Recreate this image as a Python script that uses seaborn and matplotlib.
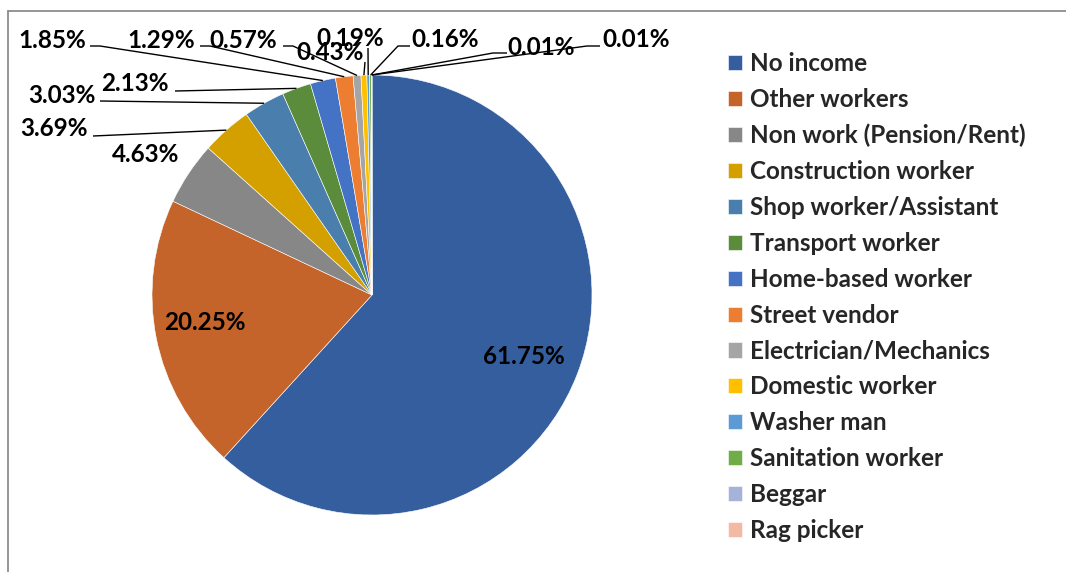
import matplotlib
matplotlib.use("Agg")
import numpy as np
import matplotlib.pyplot as plt
from matplotlib.lines import Line2D
import seaborn as sns

# Income source categories and their shares (%)
categories = [
    "No income", "Other workers", "Non work (Pension/Rent)", "Construction worker",
    "Shop worker/Assistant", "Transport worker", "Home-based worker", "Street vendor",
    "Electrician/Mechanics", "Domestic worker", "Washer man", "Sanitation worker",
    "Beggar", "Rag picker",
]
shares = [61.75, 20.25, 4.63, 3.69, 3.03, 2.13, 1.85, 1.29, 0.57, 0.43, 0.19, 0.16, 0.01, 0.01]
colors = [
    "#355E9F", "#C5642A", "#878787", "#D3A000", "#4A7EAD", "#5A8C3C", "#4472C4",
    "#ED7D31", "#A5A5A5", "#FFC000", "#5B9BD5", "#70AD47", "#A5B3DA", "#F4B9A4",
]

sns.set_theme(style="white")
plt.rcParams["font.family"] = ["Lato", "DejaVu Sans"]

W, H = 1066, 572
CX, CY, R = 372, 295, 220  # pie centre and radius in pixels (y measured from top)
FS = 17.5


def to_data(px, py):
    return (px - CX) / R, (CY - py) / R


fig = plt.figure(figsize=(W / 100, H / 100), dpi=100)
ax = fig.add_axes([0, 0, 1, 1])

wedges, _ = ax.pie(
    shares, colors=colors, startangle=90, counterclock=False, radius=1,
    wedgeprops=dict(edgecolor="white", linewidth=0.4),
)
ax.set_xlim(-CX / R, (W - CX) / R)
ax.set_ylim((CY - H) / R, CY / R)
ax.set_aspect("equal", adjustable="box")
ax.axis("off")

# Label placement: text centre (px) and leader-line route (px) ending at the wedge rim
label_pos = [
    (524, 357), (205, 323), (146, 155), (54, 128), (62, 95), (135, 83),
    (52, 40), (161, 40), (243, 40), (330, 53), (350, 38), (445, 39),
    (541, 47), (636, 39),
]
leader_route = [
    None, None, None,
    [(93, 136)], [(100, 101)], [(175, 91)],
    [(90, 46), (100, 46)], [(200, 46), (210, 46)], [(283, 46), (293, 46)],
    [(365, 62)], [(368, 48)],
    [(410, 46), (398, 46)], [(507, 53), (493, 53)], [(600, 46), (587, 46)],
]

for w, val, (lx, ly), route in zip(wedges, shares, label_pos, leader_route):
    tx, ty = to_data(lx, ly)
    ax.text(tx, ty, f"{val:.2f}%", ha="center", va="center",
            fontsize=FS, fontweight="bold", color="black")
    if route is not None:
        mid = np.deg2rad((w.theta1 + w.theta2) / 2)
        rim = (np.cos(mid), np.sin(mid))
        pts = [to_data(px, py) for px, py in route] + [rim]
        xs, ys = zip(*pts)
        ax.plot(xs, ys, color="black", linewidth=1.0, solid_capstyle="butt")

leg = fig.legend(
    wedges, categories, loc="upper left", bbox_to_anchor=(728 / W, 1 - 52 / H),
    frameon=False, handlelength=0.58, handleheight=0.58, handletextpad=0.33,
    labelspacing=0.53, borderaxespad=0, borderpad=0,
    prop=dict(family=["Lato", "DejaVu Sans"], weight="bold", size=FS),
)

# Chart area frame
fig.add_artist(Line2D([8 / W, 1], [1 - 11 / H, 1 - 11 / H], color="#8C8C8C", linewidth=1.3))
fig.add_artist(Line2D([8 / W, 8 / W], [0, 1 - 11 / H], color="#8C8C8C", linewidth=1.3))

fig.savefig("out.png", dpi=100)
